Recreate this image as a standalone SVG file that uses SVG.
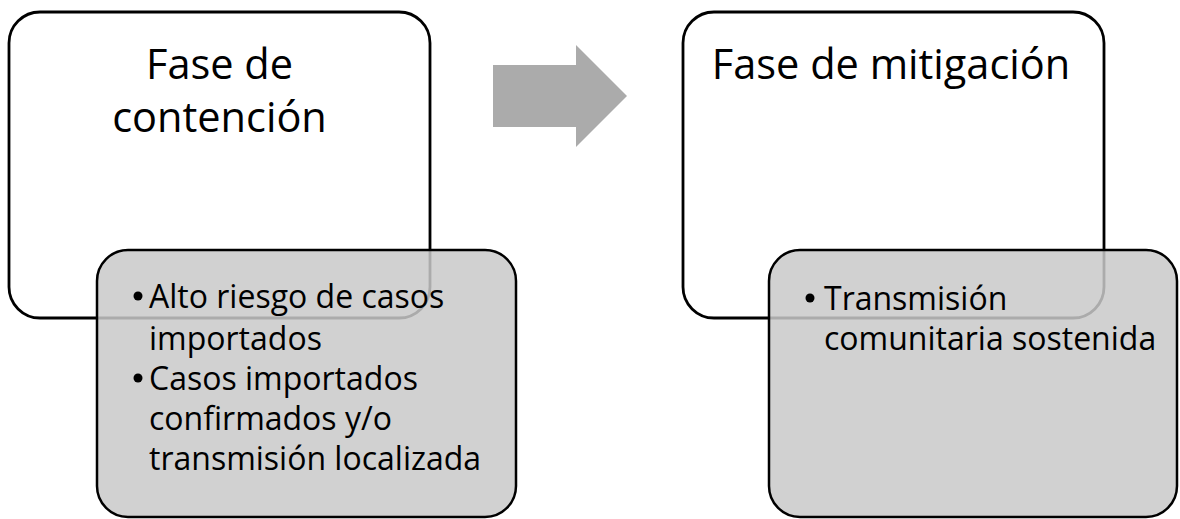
<svg xmlns="http://www.w3.org/2000/svg" width="1180" height="519" viewBox="0 0 1180 519">
<style>
.outer{fill:#ffffff;stroke:#000;stroke-width:2.8}
.inner{fill:#c9c9c9;fill-opacity:0.85;stroke:#000;stroke-width:2.5}
.title{font-family:"Open Sans","Noto Sans",sans-serif;font-size:41.5px;fill:#000}
.body{font-family:"Open Sans","Noto Sans",sans-serif;font-size:32px;fill:#000}
</style>
<rect width="1180" height="519" fill="#fff"/>
<g id="fase-contencion">
<rect class="outer" x="9" y="12" width="421" height="306" rx="31" ry="31"/>
<text class="title" x="219.5" y="79" text-anchor="middle">Fase de</text>
<text class="title" x="219.5" y="132" text-anchor="middle">contención</text>
</g>
<g id="contencion-detalle">
<rect class="inner" x="97" y="250" width="419" height="267" rx="31" ry="31"/>
<circle cx="138" cy="296" r="4.5"/>
<text class="body" x="149" y="308">Alto riesgo de casos</text>
<text class="body" x="149" y="350">importados</text>
<circle cx="138" cy="378" r="4.5"/>
<text class="body" x="149" y="390">Casos importados</text>
<text class="body" x="149" y="430">confirmados y/o</text>
<text class="body" x="149" y="470">transmisión localizada</text>
</g>
<g id="connectors">
<polygon points="493,65 576,65 576,45 627,96 576,147 576,127 493,127" fill="#ababab"/>
</g>
<g id="fase-mitigacion">
<rect class="outer" x="683" y="12" width="421" height="306" rx="31" ry="31"/>
<text class="title" x="891" y="79" text-anchor="middle">Fase de mitigación</text>
</g>
<g id="mitigacion-detalle">
<rect class="inner" x="769" y="250" width="408" height="267" rx="31" ry="31"/>
<circle cx="810" cy="298" r="4.5"/>
<text class="body" x="824" y="310">Transmisión</text>
<text class="body" x="824" y="350">comunitaria sostenida</text>
</g>
</svg>
